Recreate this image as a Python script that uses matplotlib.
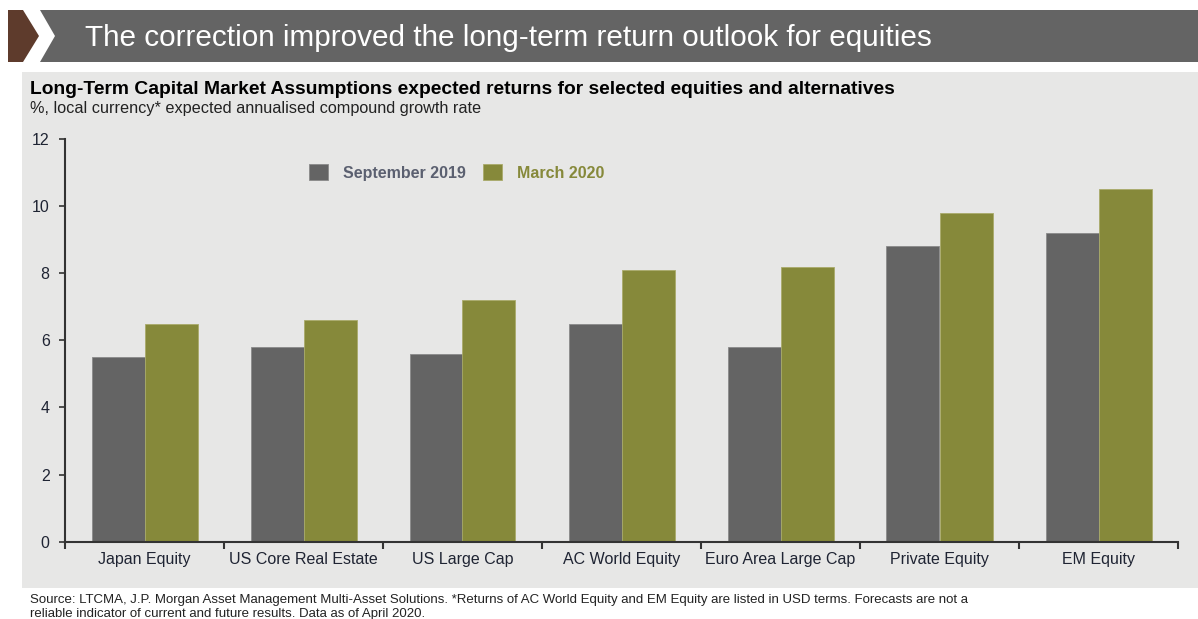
import matplotlib
matplotlib.use("Agg")
import matplotlib.pyplot as plt
from matplotlib.patches import Polygon
import numpy as np

categories = ["Japan Equity", "US Core Real Estate", "US Large Cap", "AC World Equity",
              "Euro Area Large Cap", "Private Equity", "EM Equity"]
sep_2019 = [5.5, 5.8, 5.6, 6.5, 5.8, 8.8, 9.2]
mar_2020 = [6.5, 6.6, 7.2, 8.1, 8.2, 9.8, 10.5]
series_names = ["September 2019", "March 2020"]
y_ticks = [0, 2, 4, 6, 8, 10, 12]

title = "The correction improved the long-term return outlook for equities"
subtitle = "Long-Term Capital Market Assumptions expected returns for selected equities and alternatives"
subtitle2 = "%, local currency* expected annualised compound growth rate"
footer = ("Source: LTCMA, J.P. Morgan Asset Management Multi-Asset Solutions. *Returns of AC World Equity and EM Equity are listed in USD terms. Forecasts are not a\n"
          "reliable indicator of current and future results. Data as of April 2020.")

GRAY = "#646464"
GREEN = "#86893a"
PANEL = "#e7e7e6"
BROWN = "#5e3b2c"

plt.rcParams['font.family'] = ['Liberation Sans', 'DejaVu Sans']

W, H = 1198, 619
fig = plt.figure(figsize=(W / 100, H / 100), dpi=100)
fig.patch.set_facecolor("white")

def P(x, y):
    return (x / W, 1 - y / H)

# panel background
fig.patches.append(Polygon([P(22, 72), P(1198, 72), P(1198, 588), P(22, 588)],
                           closed=True, transform=fig.transFigure, facecolor=PANEL,
                           edgecolor="none", zorder=-5))
# header
fig.patches.append(Polygon([P(8, 10), P(23, 10), P(39, 36), P(23, 62), P(8, 62)],
                           closed=True, transform=fig.transFigure, facecolor=BROWN,
                           edgecolor="none", zorder=-5))
fig.patches.append(Polygon([P(40, 10), P(1198, 10), P(1198, 62), P(40, 62), P(55, 36)],
                           closed=True, transform=fig.transFigure, facecolor=GRAY,
                           edgecolor="none", zorder=-5))
fig.text(85 / W, 1 - 37.5 / H, title, color="white", fontsize=21.4, va="center", ha="left")
fig.text(30 / W, 1 - 89 / H, subtitle, color="black", fontsize=13.9, fontweight="bold",
         va="center", ha="left")
fig.text(30 / W, 1 - 109 / H, subtitle2, color="#222222", fontsize=11.7, va="center", ha="left")
fig.text(30 / W, 1 - 607 / H, footer, color="#222222", fontsize=9.5, va="center", ha="left",
         linespacing=1.15)

ax = fig.add_axes([65 / W, 1 - 541.7 / H, (1178 - 65) / W, (541.7 - 139) / H])
ax.set_zorder(5)
ax.set_facecolor("none")
x = np.arange(len(categories))
bw = 1 / 3
ax.bar(x - bw / 2, sep_2019, width=bw, color=GRAY, edgecolor="#8a8a8a", linewidth=0.6,
       label=series_names[0])
ax.bar(x + bw / 2, mar_2020, width=bw, color=GREEN, edgecolor="#a9ab6a", linewidth=0.6,
       label=series_names[1])
ax.set_xlim(-0.5, len(categories) - 0.5)
ax.set_ylim(0, 12)
ax.set_yticks(y_ticks)
ax.set_yticklabels([str(v) for v in y_ticks], fontsize=11.5, color="#1f2433")
ax.set_xticks(x)
ax.set_xticklabels(categories, fontsize=11.5, color="#1f2433")
ax.tick_params(axis="x", length=0, pad=7.5)
ax.set_xticks(np.arange(-0.5, len(categories)), minor=True)
ax.tick_params(axis="x", which="minor", length=5, width=1.5, color="#333333", direction="out")
ax.tick_params(axis="y", length=4, width=1.2, color="#333333", pad=7)
for s in ["top", "right"]:
    ax.spines[s].set_visible(False)
for s in ["left", "bottom"]:
    ax.spines[s].set_color("#333333")
    ax.spines[s].set_linewidth(1.5)

leg = ax.legend(loc="upper left", bbox_to_anchor=(244 / (1178 - 65), 1 - (164 - 139) / (541.7 - 139)),
                ncol=2, frameon=False, prop={"weight": "bold", "size": 11.5},
                handlelength=1.2, handleheight=1.2, handletextpad=0.9, columnspacing=1.1,
                borderaxespad=0, borderpad=0)
for t, c in zip(leg.get_texts(), ["#5b6070", "#86893a"]):
    t.set_color(c)

fig.savefig("out.png", dpi=100, facecolor="white")
